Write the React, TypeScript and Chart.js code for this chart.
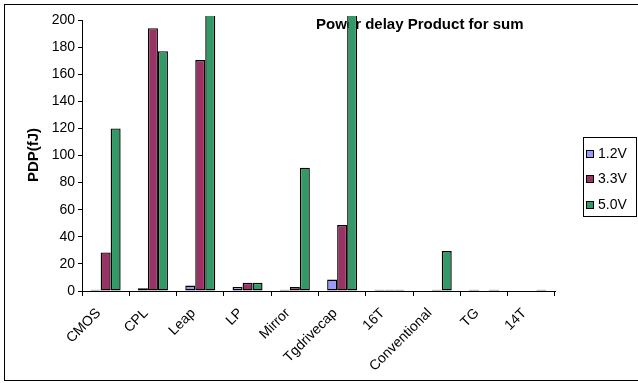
import React, { useEffect, useRef } from "react";
import { Chart, registerables } from "chart.js";

Chart.register(...registerables);

// Power-delay product (fJ) of the sum output, per adder style and supply voltage
const categories = ["CMOS", "CPL", "Leap", "LP", "Mirror", "Tgdrivecap", "16T", "Conventional", "TG", "14T"];
const seriesNames = ["1.2V", "3.3V", "5.0V"];
const pdp12 = [1, 2, 4, 3, 1, 8.4, 1, 0, 1, 0];
const pdp33 = [28.5, 194, 170.5, 6, 3, 48.7, 1, 1, 0, 0];
const pdp50 = [120, 177, 215, 6, 91, 225, 1, 29.5, 1, 1];
const yTicks = [0, 20, 40, 60, 80, 100, 120, 140, 160, 180, 200];

const colors = ["#9999FF", "#993366", "#339966"];
const FONT = "'Liberation Sans', Arial, sans-serif";

const frame = {
  id: "frame",
  beforeDraw(chart: any) {
    const ctx = chart.ctx;
    ctx.save();
    ctx.fillStyle = "#ffffff";
    ctx.fillRect(0, 0, chart.width, chart.height);
    ctx.strokeStyle = "#000000";
    ctx.lineWidth = 1;
    ctx.strokeRect(4.5, 4.5, chart.width + 10, 376);
    ctx.restore();
  },
  beforeDatasetsDraw(chart: any) {
    const ctx = chart.ctx;
    ctx.save();
    ctx.fillStyle = "#000000";
    ctx.font = `bold 15px ${FONT}`;
    ctx.textBaseline = "alphabetic";
    ctx.textAlign = "left";
    ctx.fillText("Power delay Product for sum", 316, 29);
    ctx.restore();
  },
  afterDraw(chart: any) {
    const ctx = chart.ctx;
    const y = chart.scales.y;
    const area = chart.chartArea;
    ctx.save();
    // value axis line from 0 to the top tick
    ctx.strokeStyle = "#000000";
    ctx.lineWidth = 1;
    ctx.beginPath();
    ctx.moveTo(Math.round(area.left) + 0.5, y.getPixelForValue(0));
    ctx.lineTo(Math.round(area.left) + 0.5, y.getPixelForValue(yTicks[yTicks.length - 1]));
    ctx.stroke();

    // axis title
    ctx.fillStyle = "#000000";
    ctx.font = `bold 15px ${FONT}`;
    ctx.textAlign = "center";
    ctx.textBaseline = "middle";
    ctx.translate(34, 155);
    ctx.rotate(-Math.PI / 2);
    ctx.fillText("PDP(fJ)", 0, 0);
    ctx.restore();

    // legend
    ctx.save();
    ctx.strokeStyle = "#000000";
    ctx.lineWidth = 1;
    ctx.fillStyle = "#ffffff";
    ctx.fillRect(583.5, 137.5, 53, 79);
    ctx.strokeRect(583.5, 137.5, 53, 79);
    ctx.font = `14px ${FONT}`;
    ctx.textAlign = "left";
    ctx.textBaseline = "middle";
    chart.data.datasets.forEach((ds: any, i: number) => {
      const cy = 153 + i * 25.5;
      ctx.fillStyle = ds.backgroundColor;
      ctx.fillRect(586.5, Math.round(cy - 3.5) + 0.5, 7, 7);
      ctx.strokeRect(586.5, Math.round(cy - 3.5) + 0.5, 7, 7);
      ctx.fillStyle = "#000000";
      ctx.fillText(ds.label, 598, cy + 1);
    });
    ctx.restore();
  },
};

export default function App() {
  const ref = useRef<HTMLCanvasElement | null>(null);

  useEffect(() => {
    if (!ref.current) return;
    const series = [pdp12, pdp33, pdp50];
    const chart = new Chart(ref.current, {
      type: "bar",
      data: {
        labels: categories,
        datasets: series.map((values, i) => ({
          label: seriesNames[i],
          data: values,
          backgroundColor: colors[i],
          borderColor: "#000000",
          borderWidth: 1.4,
          borderSkipped: false,
          barPercentage: 1,
          categoryPercentage: 0.634,
        })),
      },
      options: {
        responsive: false,
        animation: false,
        events: [],
        layout: { padding: { left: 0, right: 83, top: 16, bottom: 0 } },
        plugins: {
          legend: { display: false },
          title: { display: false },
          tooltip: { enabled: false },
        },
        scales: {
          x: {
            type: "category",
            offset: true,
            grid: {
              offset: true,
              drawOnChartArea: false,
              drawTicks: true,
              tickLength: 5,
              color: "#000000",
            },
            border: { display: true, color: "#000000", width: 1 },
            ticks: {
              autoSkip: false,
              maxRotation: 45,
              minRotation: 45,
              padding: 9,
              labelOffset: -7,
              color: "#000000",
              font: { family: FONT, size: 14 },
            },
            afterFit(scale: any) {
              scale.height = 92;
            },
          },
          y: {
            min: 0,
            max: 203,
            ticks: {
              stepSize: 20,
              padding: 3,
              color: "#000000",
              font: { family: FONT, size: 14 },
            },
            afterBuildTicks(scale: any) {
              scale.ticks = yTicks.map((v) => ({ value: v }));
            },
            grid: {
              drawOnChartArea: false,
              drawTicks: true,
              tickLength: 4,
              color: "#000000",
            },
            border: { display: false },
            afterFit(scale: any) {
              scale.width = 82;
            },
          },
        },
      },
      plugins: [frame],
    });
    return () => chart.destroy();
  }, []);

  return (
    <div style={{ position: "fixed", left: 0, top: 0, width: 638, height: 383, background: "#fff" }}>
      <canvas ref={ref} width={638} height={383} />
    </div>
  );
}
